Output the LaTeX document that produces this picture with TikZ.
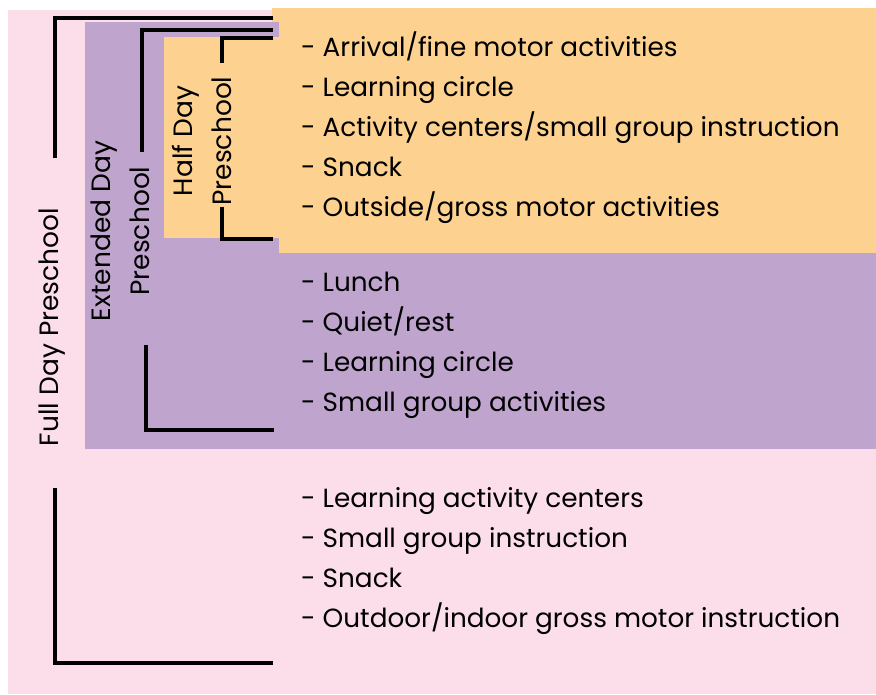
\documentclass[tikz,border=0pt]{standalone}
\usepackage{fontspec}
\setmainfont{Poppins}
\usetikzlibrary{positioning}
\definecolor{fullpink}{HTML}{FBDEEA}
\definecolor{extpurple}{HTML}{BFA5CE}
\definecolor{halforange}{HTML}{FDD18F}
\tikzstyle{bracket} = [draw, line width=3.2pt]
\tikzstyle{items} = [anchor=west, align=left, inner sep=0pt, font={\fontsize{26.3}{40}\selectfont}]
\tikzstyle{level} = [rotate=90, align=center, inner sep=0pt, font={\fontsize{26.5}{39}\selectfont}]

\begin{document}
\begin{tikzpicture}[x=1pt, y=-1pt]
      \useasboundingbox (0,0) rectangle (876,694);
      % colour bands
      \fill [fullpink] (8,10) rectangle (876,694);
      \fill [halforange] (272,8) rectangle (876,253);
      \fill [extpurple] (85,22) rectangle (279,449);
      \fill [extpurple] (272,253) rectangle (876,449);
      \fill [halforange] (164,37) rectangle (279,238);
      % labels
      \node [level] at (52,327) (full) {Full Day Preschool};
      \node [level] at (120,231) (extended) {Extended Day\\Preschool};
      \node [level] at (202,141) (half) {Half Day\\Preschool};
      \node [items] at (301,128) (halfitems)
        {- Arrival/fine motor activities\\
         - Learning circle\\
         - Activity centers/small group instruction\\
         - Snack\\
         - Outside/gross motor activities};
      \node [items] at (301,345) (extitems)
        {- Lunch\\
         - Quiet/rest\\
         - Learning circle\\
         - Small group activities};
      \node [items] at (301,561) (fullitems)
        {- Learning activity centers\\
         - Small group instruction\\
         - Snack\\
         - Outdoor/indoor gross motor instruction};
      % brackets
      \path [bracket] (273,18) -| (55,158);
      \path [bracket] (55,488) |- (273,663);
      \path [bracket] (273,30) -| (142,152);
      \path [bracket] (146,345) |- (274,430);
      \path [bracket] (273,38) -| (222,63);
      \path [bracket] (222,207) |- (273,239);
    \end{tikzpicture}
\end{document}
